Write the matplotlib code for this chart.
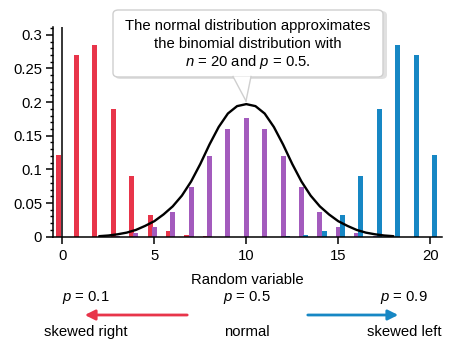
import matplotlib
matplotlib.use("Agg")
import matplotlib.pyplot as plt
from matplotlib.patches import FancyBboxPatch, FancyArrowPatch, Polygon
from matplotlib.lines import Line2D
from matplotlib.ticker import MultipleLocator, FuncFormatter

plt.rcParams['font.family'] = ['Liberation Sans', 'DejaVu Sans']
plt.rcParams['mathtext.fontset'] = 'custom'
plt.rcParams['mathtext.rm'] = 'Liberation Sans'
plt.rcParams['mathtext.it'] = 'Liberation Sans:italic'

# binomial probabilities, n = 20
k_values = list(range(21))
p_low = [0.122, 0.270, 0.285, 0.190, 0.090, 0.032, 0.009, 0.002, 0.0004, 0, 0,
         0, 0, 0, 0, 0, 0, 0, 0, 0, 0]
p_mid = [0, 0, 0.0002, 0.001, 0.005, 0.015, 0.037, 0.074, 0.120, 0.160, 0.176,
         0.160, 0.120, 0.074, 0.037, 0.015, 0.005, 0.001, 0.0002, 0, 0]
p_high = [0, 0, 0, 0, 0, 0, 0, 0, 0, 0, 0,
          0, 0.0004, 0.002, 0.009, 0.032, 0.090, 0.190, 0.285, 0.270, 0.122]

# normal approximation curve
curve_x = [2.0, 2.5, 3.0, 3.5, 4.0, 4.5, 5.0, 5.5, 6.0, 6.5, 7.0, 7.5, 8.0, 8.5,
           9.0, 9.5, 10.0, 10.5, 11.0, 11.5, 12.0, 12.5, 13.0, 13.5, 14.0, 14.5,
           15.0, 15.5, 16.0, 16.5, 17.0, 17.5, 18.0]
curve_y = [0.0007, 0.0017, 0.0035, 0.006, 0.010, 0.016, 0.023, 0.033, 0.045,
           0.061, 0.082, 0.108, 0.137, 0.163, 0.183, 0.194, 0.197, 0.194, 0.183,
           0.163, 0.137, 0.108, 0.082, 0.061, 0.045, 0.033, 0.023, 0.016, 0.010,
           0.006, 0.0035, 0.0017, 0.0007]

RED = '#e8354a'
PURPLE = '#a35bbd'
BLUE = '#1787c4'
W, H = 452, 347
FS = 10.7


def px(x, y):
    # pixel position (from top-left) to figure fraction
    return x / W, 1 - y / H


fig = plt.figure(figsize=(W / 100, H / 100), dpi=100)
ax = fig.add_axes([0.118, 0.318, 0.859, 0.603])

bw = 0.27
ax.bar([k - 0.23 for k in k_values], p_low, width=bw, color=RED, zorder=2)
ax.bar(k_values, p_mid, width=bw, color=PURPLE, zorder=2)
ax.bar([k + 0.23 for k in k_values], p_high, width=bw, color=BLUE, zorder=2)
ax.plot(curve_x, curve_y, color='black', lw=1.7, zorder=3,
        solid_capstyle='round', solid_joinstyle='round')
ax.axvline(0, color='black', lw=1.1, zorder=1)

ax.set_xlim(-0.49, 20.62)
ax.set_ylim(0, 0.311)
ax.spines['top'].set_visible(False)
ax.spines['right'].set_visible(False)
for s in ('left', 'bottom'):
    ax.spines[s].set_linewidth(1.1)

ax.set_xticks([0, 5, 10, 15, 20])
ax.yaxis.set_major_locator(MultipleLocator(0.05))
ax.yaxis.set_minor_locator(MultipleLocator(0.01))
ax.yaxis.set_major_formatter(FuncFormatter(lambda v, _: f"{v:.2f}".rstrip('0').rstrip('.')))
ax.tick_params(axis='both', which='major', length=5, width=1.1, labelsize=FS,
               colors='black')
ax.tick_params(axis='y', which='minor', length=2.5, width=1)
ax.tick_params(axis='y', pad=3)
ax.tick_params(axis='x', pad=4)
ax.set_xlabel('Random variable', fontsize=FS, labelpad=7)

# callout box with pointer
shadow = FancyBboxPatch(px(115, 79), 272 / W, 68 / H, transform=fig.transFigure,
                        boxstyle='round,pad=0,rounding_size=0.012',
                        facecolor='#000000', alpha=0.12, edgecolor='none', zorder=4)
box = FancyBboxPatch(px(113, 77), 270 / W, 67 / H, transform=fig.transFigure,
                     boxstyle='round,pad=0,rounding_size=0.012',
                     facecolor='white', edgecolor='#cfcfcf', lw=1, zorder=5)
fig.patches.extend([shadow, box])
tail = [px(233, 76.5), px(246, 101), px(251, 76.5)]
fig.patches.append(Polygon(tail, closed=True, transform=fig.transFigure,
                           facecolor='white', edgecolor='none', zorder=6))
for a, b in ((tail[0], tail[1]), (tail[1], tail[2])):
    fig.lines.append(Line2D([a[0], b[0]], [a[1], b[1]], transform=fig.transFigure,
                            color='#cfcfcf', lw=1, zorder=7))

callout = ["The normal distribution approximates",
           "the binomial distribution with",
           "$\\it{n}$ = 20 and $\\it{p}$ = 0.5."]
for i, line in enumerate(callout):
    x, y = px(248, 26 + 17.8 * i)
    fig.text(x, y, line, ha='center', va='center', fontsize=FS, zorder=8)

# skew labels under the axis
labels_p = ["$\\it{p}$ = 0.1", "$\\it{p}$ = 0.5", "$\\it{p}$ = 0.9"]
labels_skew = ["skewed right", "normal", "skewed left"]
label_x = [86, 247, 404]
for x, lp, ls in zip(label_x, labels_p, labels_skew):
    fig.text(*px(x, 298), lp, ha='center', va='center', fontsize=FS)
    fig.text(*px(x, 332), ls, ha='center', va='center', fontsize=FS)

fig.patches.append(FancyArrowPatch(
    px(190, 315), px(82, 315), transform=fig.transFigure,
    arrowstyle='-|>,head_length=6,head_width=3', color=RED, lw=2, mutation_scale=1))
fig.patches.append(FancyArrowPatch(
    px(305, 315), px(401, 315), transform=fig.transFigure,
    arrowstyle='-|>,head_length=6,head_width=3', color=BLUE, lw=2, mutation_scale=1))

fig.savefig('out.png', dpi=100)
